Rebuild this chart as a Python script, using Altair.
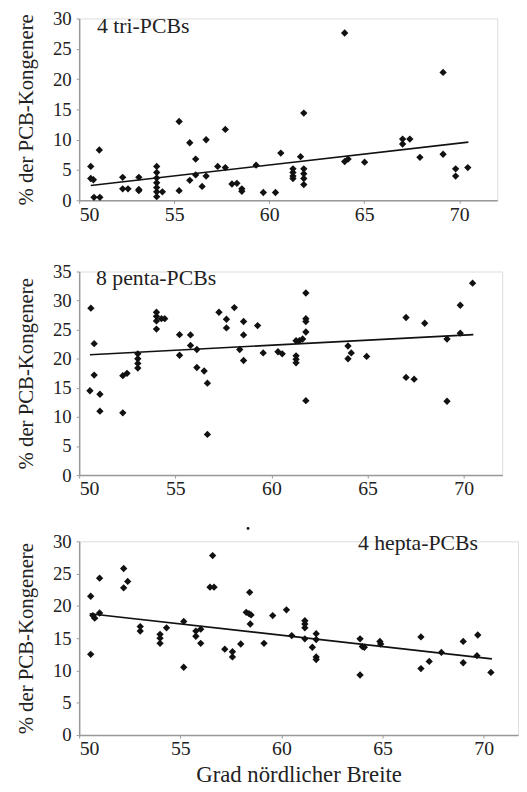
import altair as alt
import pandas as pd

# ---------------- data ----------------
tri_x = [50.61, 50.61, 50.75, 50.78, 51.09, 51.06,
         52.29, 52.29, 52.57, 53.14, 53.14, 53.14,
         54.08, 54.08, 54.08, 54.08, 54.08, 54.08, 54.08, 54.38,
         55.26, 55.26, 55.82, 55.82, 56.13, 56.13, 56.47, 56.68, 56.68,
         57.29, 57.69, 57.69, 58.04, 58.30, 58.56, 58.56, 59.31, 59.69,
         60.33, 60.61, 61.65, 61.25, 61.25, 61.25, 61.25,
         61.82, 61.82, 61.82, 61.82, 61.82,
         63.97, 63.97, 64.15, 65.02, 67.02, 67.02, 67.40, 67.93,
         69.15, 69.15, 69.81, 69.81, 70.45]
tri_y = [5.6, 3.6, 3.4, 0.5, 0.5, 8.3,
         3.8, 1.9, 1.9, 3.8, 1.8, 1.6,
         5.6, 4.6, 3.7, 2.9, 2.1, 1.4, 0.6, 1.4,
         13.0, 1.6, 9.5, 3.3, 6.8, 4.2, 2.3, 10.0, 4.0,
         5.6, 11.7, 5.4, 2.7, 2.8, 1.9, 1.5, 5.8, 1.3,
         1.3, 7.8, 7.2, 5.2, 4.6, 4.0, 3.6,
         14.4, 5.2, 4.4, 3.6, 2.6,
         27.6, 6.4, 6.8, 6.3, 10.1, 9.3, 10.1, 7.1,
         21.1, 7.6, 5.2, 4.0, 5.4]
tri_trend_x = [50.61, 70.48]
tri_trend_y = [2.45, 9.6]

penta_x = [50.61, 50.78, 50.78, 50.56, 51.08, 51.08,
           52.27, 52.27, 52.49, 53.05, 53.05, 53.05, 53.05,
           54.02, 54.02, 54.02, 54.02, 54.28, 54.45,
           55.22, 55.22, 55.79, 55.79, 56.12, 56.12, 56.50, 56.67, 56.67,
           57.27, 57.66, 57.66, 58.07, 58.55, 58.55, 58.55, 58.35,
           59.28, 59.57, 60.34, 60.56,
           61.28, 61.45, 61.62, 61.28, 61.28, 61.28,
           61.79, 61.79, 61.79, 61.79, 61.79,
           63.98, 63.98, 64.15, 64.95,
           67.00, 67.00, 67.42, 67.97, 69.13, 69.13, 69.82, 69.82, 70.46]
penta_y = [28.7, 22.6, 17.2, 14.5, 13.9, 11.0,
           10.7, 17.1, 17.5, 20.85, 20.0, 19.2, 18.4,
           28.0, 27.3, 26.5, 25.1, 26.9, 26.9,
           24.15, 20.6, 24.1, 22.3, 21.6, 18.5, 17.9, 15.8, 7.0,
           28.0, 26.8, 25.3, 28.8, 26.4, 24.1, 19.7, 21.6,
           25.7, 21.0, 21.2, 20.85,
           23.1, 23.1, 23.4, 20.5, 19.9, 19.3,
           31.3, 26.9, 26.4, 24.6, 12.8,
           22.2, 20.0, 21.0, 20.4,
           27.1, 16.8, 16.5, 26.1, 23.4, 12.7, 29.2, 24.4, 33.0]
penta_trend_x = [50.56, 70.50]
penta_trend_y = [20.7, 24.15]

hepta_x = [50.57, 50.57, 50.68, 50.77, 51.01, 51.01,
           52.20, 52.20, 52.40, 53.02, 53.02,
           54.00, 54.00, 54.00, 54.32, 55.17, 55.17,
           55.77, 55.77, 56.01, 56.01, 56.60, 56.47, 56.67,
           57.20, 57.58, 57.58, 57.99, 58.43, 58.26, 58.40, 58.50, 58.46,
           59.14, 59.57, 60.25, 60.51,
           61.16, 61.16, 61.16, 61.16, 61.53,
           61.72, 61.72, 61.72, 61.72,
           63.89, 63.89, 64.00, 64.10, 64.87, 64.91,
           66.90, 66.90, 67.31, 67.91, 68.99, 68.99, 69.71, 69.67, 70.36]
hepta_y = [21.5, 12.5, 18.5, 18.1, 24.3, 18.9,
           25.8, 22.8, 23.8, 16.8, 16.1,
           15.6, 15.0, 14.2, 16.6, 17.6, 10.5,
           16.1, 15.3, 16.4, 14.2, 27.8, 22.9, 22.9,
           13.3, 12.9, 12.1, 14.1, 22.1, 19.0, 18.8, 18.6, 17.2,
           14.2, 18.5, 19.4, 15.4,
           17.7, 17.2, 16.6, 14.9, 13.6,
           15.7, 14.8, 12.1, 11.7,
           14.9, 9.3, 13.7, 13.6, 14.5, 14.1,
           15.2, 10.3, 11.4, 12.8, 14.5, 11.2, 15.5, 12.3, 9.7]
hepta_extra_x = [58.35]
hepta_extra_y = [32.0]
hepta_trend_x = [50.52, 70.41]
hepta_trend_y = [18.8, 11.8]

panel_labels = ["4 tri-PCBs", "8 penta-PCBs", "4 hepta-PCBs"]
y_title = "% der PCB-Kongenere"
x_title = "Grad nördlicher Breite"

FONT = "Liberation Serif"
TXT = "#222222"
AX = "#999999"


def panel(px, py, tx, ty, ymax, xmax, width, height, label, lab_x, lab_y,
          xtitle=None, extra=None):
    pts = pd.DataFrame({"x": px, "y": py})
    trend = pd.DataFrame({"x": tx, "y": ty})
    xscale = alt.Scale(domain=[50, xmax], nice=False, zero=False)
    yscale = alt.Scale(domain=[0, ymax], nice=False)
    xaxis_kw = dict(values=[50, 55, 60, 65, 70], grid=False, tickSize=3,
                    labelPadding=1, labelFontSize=20, labelFont=FONT,
                    labelColor=TXT, domainColor=AX, tickColor=AX,
                    domainWidth=1.5, labelOverlap=False,
                    titleFont=FONT, titleFontSize=23,
                    titleFontWeight="normal", titleColor=TXT, titlePadding=5)
    if xtitle:
        xaxis = alt.Axis(title=xtitle, **xaxis_kw)
    else:
        xaxis = alt.Axis(title=None, **xaxis_kw)
    yaxis = alt.Axis(title=y_title, values=list(range(0, ymax + 1, 5)),
                     grid=False, tickSize=3, labelPadding=5, labelFontSize=19,
                     labelFont=FONT, labelColor=TXT, domainColor=AX,
                     labelOverlap=False,
                     tickColor=AX, domainWidth=1.5, titleFont=FONT,
                     titleFontSize=21, titleFontWeight="normal",
                     titleColor=TXT, titlePadding=16)
    enc_x = alt.X("x:Q", scale=xscale, axis=xaxis)
    enc_y = alt.Y("y:Q", scale=yscale, axis=yaxis)

    points = alt.Chart(pts).mark_point(
        shape="diamond", filled=True, color="#111111", size=55, opacity=1
    ).encode(x=enc_x, y=enc_y)
    line = alt.Chart(trend).mark_line(color="#111111", strokeWidth=1.6).encode(
        x=enc_x, y=enc_y)
    text = alt.Chart(pd.DataFrame({"t": [label]})).mark_text(
        font=FONT, fontSize=22, color=TXT, align="left", baseline="middle"
    ).encode(x=alt.value(lab_x), y=alt.value(lab_y), text="t:N")
    layers = [points, line, text]
    if extra is not None:
        ex = pd.DataFrame({"x": extra[0], "y": extra[1]})
        layers.append(alt.Chart(ex).mark_circle(color="#111111", size=8,
                                                opacity=1).encode(x=enc_x, y=enc_y))
    return alt.layer(*layers).properties(width=width, height=height)


p1 = panel(tri_x, tri_y, tri_trend_x, tri_trend_y, 30, 72, 423, 184,
           panel_labels[0], 18, 8)
p2 = panel(penta_x, penta_y, penta_trend_x, penta_trend_y, 35, 72, 428, 206,
           panel_labels[1], 17, 7)
p3 = panel(hepta_x, hepta_y, hepta_trend_x, hepta_trend_y, 30, 71.7, 444, 196,
           panel_labels[2], 282, 2, xtitle=x_title,
           extra=(hepta_extra_x, hepta_extra_y))

chart = alt.vconcat(p1, alt.vconcat(p2, p3, spacing=27), spacing=37).properties(
    padding={"left": 7, "top": -4, "right": 0, "bottom": 0}
).configure_axis(labelFont=FONT, titleFont=FONT).configure_view(
    stroke=None).configure(background="white")

chart.save("out.html", embed_options={"renderer": "svg", "actions": False})
